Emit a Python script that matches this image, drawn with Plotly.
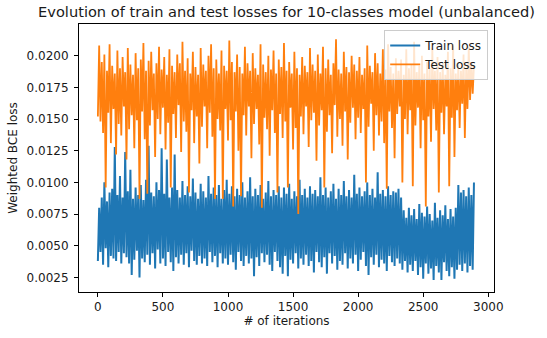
import plotly.graph_objects as go

# ---- data ----
train_step = 10
train_loss = [
    0.0038, 0.0080, 0.0045, 0.0088, 0.0035, 0.0100, 0.0048, 0.0085, 0.0033, 0.0092,
    0.0042, 0.0095, 0.0040, 0.0128, 0.0038, 0.0090, 0.0045, 0.0105, 0.0036, 0.0088,
    0.0044, 0.0124, 0.0041, 0.0093, 0.0036, 0.0110, 0.0027, 0.0087, 0.0039, 0.0096,
    0.0046, 0.0090, 0.0025, 0.0098, 0.0040, 0.0086, 0.0037, 0.0102, 0.0043, 0.0129,
    0.0035, 0.0092, 0.0044, 0.0089, 0.0032, 0.0100, 0.0047, 0.0094, 0.0036, 0.0127,
    0.0040, 0.0091, 0.0034, 0.0118, 0.0045, 0.0088, 0.0037, 0.0096, 0.0030, 0.0122,
    0.0041, 0.0094, 0.0036, 0.0088, 0.0043, 0.0101, 0.0035, 0.0090, 0.0044, 0.0097,
    0.0033, 0.0089, 0.0046, 0.0103, 0.0038, 0.0092, 0.0035, 0.0087, 0.0042, 0.0099,
    0.0036, 0.0093, 0.0040, 0.0088, 0.0034, 0.0105, 0.0045, 0.0091, 0.0037, 0.0096,
    0.0042, 0.0090, 0.0033, 0.0098, 0.0044, 0.0087, 0.0036, 0.0094, 0.0040, 0.0102,
    0.0035, 0.0091, 0.0043, 0.0097, 0.0037, 0.0089, 0.0031, 0.0095, 0.0045, 0.0090,
    0.0038, 0.0100, 0.0034, 0.0088, 0.0042, 0.0093, 0.0036, 0.0104, 0.0040, 0.0089,
    0.0026, 0.0095, 0.0041, 0.0090, 0.0034, 0.0098, 0.0044, 0.0087, 0.0037, 0.0092,
    0.0043, 0.0101, 0.0035, 0.0089, 0.0030, 0.0094, 0.0045, 0.0090, 0.0038, 0.0097,
    0.0033, 0.0088, 0.0028, 0.0096, 0.0042, 0.0091, 0.0026, 0.0099, 0.0039, 0.0087,
    0.0036, 0.0093, 0.0044, 0.0089, 0.0032, 0.0102, 0.0040, 0.0090, 0.0035, 0.0095,
    0.0043, 0.0088, 0.0034, 0.0097, 0.0038, 0.0091, 0.0029, 0.0094, 0.0045, 0.0089,
    0.0037, 0.0104, 0.0033, 0.0090, 0.0041, 0.0096, 0.0028, 0.0088, 0.0044, 0.0093,
    0.0036, 0.0099, 0.0042, 0.0087, 0.0031, 0.0095, 0.0038, 0.0090, 0.0035, 0.0101,
    0.0044, 0.0089, 0.0032, 0.0094, 0.0040, 0.0088, 0.0036, 0.0106, 0.0043, 0.0091,
    0.0030, 0.0096, 0.0039, 0.0089, 0.0045, 0.0093, 0.0034, 0.0100, 0.0027, 0.0090,
    0.0041, 0.0095, 0.0035, 0.0088, 0.0043, 0.0108, 0.0033, 0.0091, 0.0039, 0.0094,
    0.0036, 0.0089, 0.0030, 0.0097, 0.0042, 0.0090, 0.0037, 0.0093, 0.0034, 0.0092,
    0.0040, 0.0095, 0.0036, 0.0088, 0.0031, 0.0078, 0.0038, 0.0072, 0.0029, 0.0080,
    0.0035, 0.0074, 0.0030, 0.0079, 0.0038, 0.0071, 0.0027, 0.0083, 0.0033, 0.0076,
    0.0024, 0.0073, 0.0036, 0.0081, 0.0028, 0.0075, 0.0032, 0.0070, 0.0023, 0.0084,
    0.0034, 0.0072, 0.0029, 0.0078, 0.0023, 0.0074, 0.0037, 0.0082, 0.0030, 0.0071,
    0.0026, 0.0079, 0.0033, 0.0073, 0.0024, 0.0080, 0.0031, 0.0098, 0.0035, 0.0092,
    0.0030, 0.0094, 0.0036, 0.0089, 0.0029, 0.0096, 0.0034, 0.0090, 0.0031, 0.0100,
]

test_step = 10
test_loss = [
    0.0152, 0.0208, 0.0148, 0.0195, 0.0139, 0.0201, 0.0096, 0.0188, 0.0155, 0.0209,
    0.0131, 0.0192, 0.0158, 0.0186, 0.0122, 0.0204, 0.0146, 0.0190, 0.0137, 0.0199,
    0.0160, 0.0187, 0.0118, 0.0206, 0.0142, 0.0193, 0.0153, 0.0185, 0.0127, 0.0202,
    0.0149, 0.0190, 0.0087, 0.0197, 0.0156, 0.0210, 0.0134, 0.0188, 0.0091, 0.0196,
    0.0145, 0.0203, 0.0157, 0.0186, 0.0120, 0.0194, 0.0150, 0.0207, 0.0138, 0.0189,
    0.0159, 0.0199, 0.0126, 0.0185, 0.0147, 0.0205, 0.0096, 0.0192, 0.0154, 0.0187,
    0.0135, 0.0201, 0.0161, 0.0194, 0.0124, 0.0211, 0.0148, 0.0188, 0.0140, 0.0198,
    0.0092, 0.0186, 0.0157, 0.0203, 0.0131, 0.0191, 0.0152, 0.0185, 0.0115, 0.0206,
    0.0144, 0.0193, 0.0160, 0.0188, 0.0127, 0.0200, 0.0155, 0.0209, 0.0136, 0.0190,
    0.0087, 0.0197, 0.0150, 0.0186, 0.0141, 0.0204, 0.0087, 0.0192, 0.0158, 0.0188,
    0.0133, 0.0212, 0.0149, 0.0195, 0.0081, 0.0187, 0.0156, 0.0201, 0.0125, 0.0191,
    0.0089, 0.0186, 0.0153, 0.0207, 0.0137, 0.0194, 0.0160, 0.0188, 0.0119, 0.0202,
    0.0146, 0.0190, 0.0158, 0.0185, 0.0130, 0.0209, 0.0080, 0.0193, 0.0151, 0.0187,
    0.0142, 0.0200, 0.0121, 0.0189, 0.0157, 0.0204, 0.0139, 0.0186, 0.0092, 0.0197,
    0.0154, 0.0191, 0.0135, 0.0210, 0.0148, 0.0188, 0.0096, 0.0195, 0.0159, 0.0186,
    0.0126, 0.0203, 0.0143, 0.0190, 0.0075, 0.0185, 0.0152, 0.0199, 0.0138, 0.0192,
    0.0160, 0.0187, 0.0128, 0.0206, 0.0149, 0.0193, 0.0155, 0.0188, 0.0117, 0.0201,
    0.0145, 0.0186, 0.0157, 0.0207, 0.0096, 0.0190, 0.0140, 0.0197, 0.0153, 0.0185,
    0.0123, 0.0194, 0.0161, 0.0213, 0.0136, 0.0189, 0.0150, 0.0186, 0.0129, 0.0203,
    0.0156, 0.0191, 0.0118, 0.0187, 0.0147, 0.0200, 0.0159, 0.0193, 0.0134, 0.0188,
    0.0151, 0.0199, 0.0139, 0.0185, 0.0158, 0.0190, 0.0100, 0.0208, 0.0144, 0.0192,
    0.0162, 0.0187, 0.0125, 0.0202, 0.0153, 0.0194, 0.0137, 0.0186, 0.0148, 0.0205,
    0.0131, 0.0189, 0.0095, 0.0209, 0.0156, 0.0191, 0.0143, 0.0186, 0.0119, 0.0198,
    0.0154, 0.0188, 0.0160, 0.0197, 0.0100, 0.0185, 0.0150, 0.0205, 0.0138, 0.0190,
    0.0157, 0.0193, 0.0097, 0.0211, 0.0145, 0.0187, 0.0159, 0.0192, 0.0127, 0.0200,
    0.0149, 0.0186, 0.0081, 0.0195, 0.0152, 0.0190, 0.0132, 0.0206, 0.0158, 0.0188,
    0.0141, 0.0199, 0.0092, 0.0187, 0.0155, 0.0194, 0.0138, 0.0185, 0.0160, 0.0203,
    0.0097, 0.0190, 0.0151, 0.0209, 0.0120, 0.0186, 0.0157, 0.0193, 0.0143, 0.0188,
    0.0162, 0.0201, 0.0135, 0.0190, 0.0158, 0.0207, 0.0165, 0.0195, 0.0170, 0.0192,
]

x_ticks = [0, 500, 1000, 1500, 2000, 2500, 3000]
y_ticks = [0.0025, 0.0050, 0.0075, 0.0100, 0.0125, 0.0150, 0.0175, 0.0200]

title_text = "Evolution of train and test losses for 10-classes model (unbalanced)"
x_label = "# of iterations"
y_label = "Weighted BCE loss"

train_iter = [i * train_step for i in range(len(train_loss))]
test_iter = [i * test_step for i in range(len(test_loss))]

FONT = "DejaVu Sans"
TXT = "#1a1a1a"
FS = 12

fig = go.Figure()
fig.add_trace(go.Scatter(x=train_iter, y=train_loss, mode="lines", name="Train loss",
                         line=dict(color="#1f77b4", width=2.0, simplify=False)))
fig.add_trace(go.Scatter(x=test_iter, y=test_loss, mode="lines", name="Test loss",
                         line=dict(color="#ff7f0e", width=1.8, simplify=False)))

axis_common = dict(showline=True, linecolor="black", linewidth=1, mirror=True,
                   ticks="outside", ticklen=4, tickwidth=1, tickcolor="black",
                   showgrid=False, zeroline=False,
                   tickfont=dict(family=FONT, size=FS, color=TXT))

fig.update_layout(
    width=547, height=338,
    margin=dict(l=77, r=53, t=24, b=45),
    paper_bgcolor="white", plot_bgcolor="white",
    font=dict(family=FONT, size=FS, color=TXT),
    title=dict(text=title_text, x=0.5, xref="paper", xanchor="center",
               y=1 - 12 / 338, yref="container", yanchor="middle",
               font=dict(family=FONT, size=14.6, color=TXT)),
    xaxis=dict(range=[-145, 3044], tickvals=x_ticks,
               title=dict(text=x_label, standoff=3, font=dict(family=FONT, size=FS, color=TXT)),
               **axis_common),
    yaxis=dict(range=[0.00135, 0.0225], tickvals=y_ticks, tickformat=".4f",
               ticklabelstandoff=3,
               title=dict(text=y_label, standoff=6, font=dict(family=FONT, size=FS, color=TXT)),
               **axis_common),
    legend=dict(x=0.986, y=0.978, xanchor="right", yanchor="top",
                bgcolor="rgba(255,255,255,0.8)", bordercolor="#cccccc", borderwidth=1,
                font=dict(family=FONT, size=FS, color=TXT),
                tracegroupgap=0, itemwidth=30),
    showlegend=True,
)

fig.write_html("out.html")
